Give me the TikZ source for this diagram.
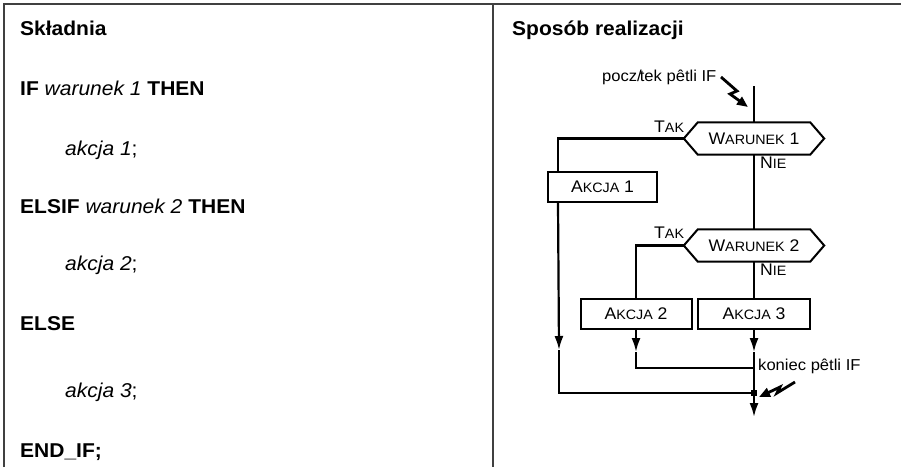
\documentclass[tikz,border=0pt]{standalone}
\usepackage{fontspec}
\setmainfont[FakeStretch=1.05]{Liberation Sans}
\usepackage{tikz}
\usetikzlibrary{arrows.meta,positioning}

\newcommand\mainsize{\fontsize{20}{24}\selectfont}
\newcommand\flowsize{\fontsize{15.8}{19}\selectfont}
\newcommand\condsize{\fontsize{16.8}{20}\selectfont}
\newcommand\kap[2]{#1{\fontsize{13.6}{16}\selectfont #2}}

\tikzset{
    frame/.style={line width=1.8pt, black!75},
    flow/.style={line width=2.2pt},
    tip/.style={-{Latex[length=14pt,width=9pt]}},
    bolt/.style={line width=2.8pt, -{Triangle[length=11pt,width=9pt]}},
    txt/.style={inner sep=0pt, anchor=base west},
    akcja/.style={draw, line width=2pt, minimum height=30pt, inner sep=0pt, font=\condsize},
    cond/.style={minimum width=112pt, minimum height=32pt, inner sep=0pt, font=\condsize}
}

\begin{document}
\begin{tikzpicture}[x=1pt,y=-1pt]
    \useasboundingbox (0,0) rectangle (901,467);

    % Frame
    \draw[frame] (4,467) -- (4,4) -- (901,4);
    \draw[frame] (493,4) -- (493,467);

    % Syntax
    \node[txt, font=\mainsize] (head1) at (20,35) {\textbf{Składnia}};
    \node[txt, font=\mainsize] (if1) at (20,95) {\textbf{IF} \textit{warunek 1} \textbf{THEN}};
    \node[txt, font=\mainsize] (elsif) at (20,213) {\textbf{ELSIF} \textit{warunek 2} \textbf{THEN}};
    \node[txt, font=\mainsize] (else) at (20,330) {\textbf{ELSE}};
    \node[txt, font=\mainsize] (endif) at (20,457) {\textbf{END\_IF;}};
    \foreach \n/\y in {1/155,2/270,3/397} {
        \node[txt, font=\mainsize] (act\n) at (65,\y) {\textit{akcja \n};};
    }

    % Flowchart
    \node[txt, font=\mainsize] (head2) at (512,35) {\textbf{Sposób realizacji}};

    \node[cond] (w1) at (754,138.5) {\kap{W}{ARUNEK} 1};
    \node[cond] (w2) at (754,245.5) {\kap{W}{ARUNEK} 2};
    \foreach \w in {w1,w2} {
        \draw[line width=2pt] ([xshift=-14pt]\w.west) -- (\w.north west) -- (\w.north east)
            -- ([xshift=14pt]\w.east) -- (\w.south east) -- (\w.south west) -- cycle;
    }

    \node[akcja, minimum width=109pt] (a1) at (602.5,187) {\kap{A}{KCJA} 1};
    \node[akcja, minimum width=111pt] (a2) at (636,314) {\kap{A}{KCJA} 2};
    \node[akcja, minimum width=112pt] (a3) at (754,314) {\kap{A}{KCJA} 3};

    % Branch labels
    \node[txt, font=\condsize] (tak1) at (654,132) {\kap{T}{AK}};
    \node[txt, font=\condsize] (nie1) at (760,168) {\kap{N}{IE}};
    \node[txt, font=\condsize] (tak2) at (654,238) {\kap{T}{AK}};
    \node[txt, font=\condsize] (nie2) at (760,275) {\kap{N}{IE}};

    % Connectors
    \coordinate (start) at (754,86);
    \coordinate (m1) at (559,350);
    \coordinate (j1) at (559,393);
    \coordinate (join1) at (754,393);
    \coordinate (m2) at (636,352);
    \coordinate (j2) at (636,368);
    \coordinate (join2) at (754,368);
    \coordinate (m3) at (754,352);
    \coordinate (end) at (754,417);

    \draw[flow] (start) -- (w1.north);
    \draw[flow] ([xshift=-14pt]w1.west) -| ([xshift=11pt]a1.north west);
    \draw[flow, tip] ([xshift=11pt]a1.south west) -- (m1);
    \draw[flow] (m1) -- (j1) -- (join1);
    \draw[flow] (w1.south) -- (w2.north);
    \draw[flow] ([xshift=-14pt]w2.west) -| (a2.north);
    \draw[flow] (w2.south) -- (a3.north);
    \draw[flow, tip] (a2.south) -- (m2);
    \draw[flow] (m2) -- (j2) -- (join2);
    \draw[flow, tip] (a3.south) -- (m3);
    \draw[flow, tip] (m3) -- (end);
    \fill ([shift={(-3,-3)}]join1) rectangle ([shift={(3,3)}]join1);

    % Loop begin and end
    \node[txt, font=\flowsize] (begin) at (602,81) {pocz/\kern-2pt tek pêtli IF};
    \node[txt, font=\flowsize] (finish) at (758,370) {koniec pêtli IF};
    \coordinate (z1) at (721,77);
    \coordinate (hit1) at (748,107);
    \coordinate (z2) at (795,382);
    \coordinate (hit2) at (759,397);
    \draw[bolt] (z1) -- (737,91) -- (730,94) -- (hit1);
    \draw[bolt] (z2) -- (777,393) -- (780,387) -- (hit2);
\end{tikzpicture}
\end{document}
